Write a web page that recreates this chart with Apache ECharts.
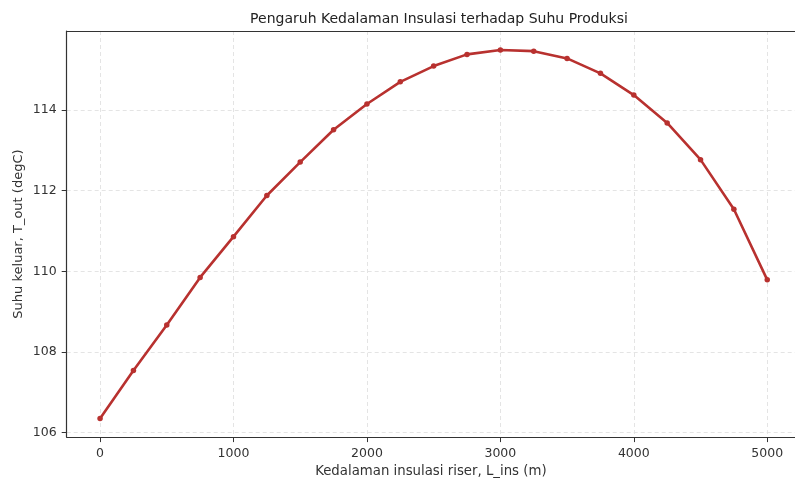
<!DOCTYPE html>
<html>
<head>
<meta charset="utf-8">
<script src="https://cdn.jsdelivr.net/npm/echarts@6/dist/echarts.min.js"></script>
<style>html,body{margin:0;padding:0;background:#fff}#c{width:795px;height:483px}</style>
</head>
<body>
<div id="c"></div>
<script>
const depths = [0,250,500,750,1000,1250,1500,1750,2000,2250,2500,2750,3000,3250,3500,3750,4000,4250,4500,4750,5000];
const tout = [106.35,107.54,108.67,109.85,110.86,111.88,112.71,113.51,114.15,114.70,115.09,115.38,115.49,115.46,115.28,114.91,114.37,113.68,112.77,111.54,109.79];
const xTicks = [0,1000,2000,3000,4000,5000];
const yTicks = [106,108,110,112,114];
const titleText = 'Pengaruh Kedalaman Insulasi terhadap Suhu Produksi';
const xLabel = 'Kedalaman insulasi riser, L_ins (m)';
const yLabel = 'Suhu keluar, T_out (degC)';

const font = 'DejaVu Sans';
const chart = echarts.init(document.getElementById('c'), null, {renderer:'canvas'});
chart.setOption({
  animation:false,
  backgroundColor:'#fff',
  title:{text:titleText,left:434,textAlign:'center',top:7,textStyle:{fontFamily:font,fontSize:14,fontWeight:'normal',color:'#222'}},
  grid:{left:66.7,right:0,top:31,bottom:45.3,containLabel:false},
  xAxis:[{
    type:'value',min:-250,max:5208,
    axisLine:{show:true,onZero:false,lineStyle:{color:'#333',width:1.2}},
    axisTick:{show:true,length:5,lineStyle:{color:'#333'},customValues:xTicks},
    axisLabel:{fontFamily:font,fontSize:12.5,color:'#333',margin:10,customValues:xTicks,formatter:v=>String(v)},
    splitLine:{show:true,lineStyle:{color:'#ddd',type:[4,3],width:0.8}},
    name:xLabel,nameLocation:'middle',nameGap:26,
    nameTextStyle:{fontFamily:font,fontSize:13.3,color:'#333'}
  },{
    type:'value',position:'top',min:-250,max:5208,
    axisLine:{show:true,lineStyle:{color:'#333',width:1.2}},
    axisTick:{show:false},axisLabel:{show:false},splitLine:{show:false}
  }],
  yAxis:[{
    type:'value',min:105.89,max:115.96,
    axisLine:{show:true,onZero:false,lineStyle:{color:'#333',width:1.2}},
    axisTick:{show:true,length:5,lineStyle:{color:'#333'},customValues:yTicks},
    axisLabel:{fontFamily:font,fontSize:12.5,color:'#333',margin:10,customValues:yTicks},
    splitLine:{show:true,lineStyle:{color:'#ddd',type:[4,3],width:0.8}},
    name:yLabel,nameLocation:'middle',nameGap:42,nameMoveOverlap:false,
    nameTextStyle:{fontFamily:font,fontSize:13,color:'#333'}
  }],
  series:[{
    type:'line',
    data:depths.map((d,i)=>[d,tout[i]]),
    symbol:'circle',symbolSize:5.5,
    lineStyle:{color:'#b8312f',width:2.6},
    itemStyle:{color:'#b8312f'}
  }]
});
</script>
</body>
</html>
